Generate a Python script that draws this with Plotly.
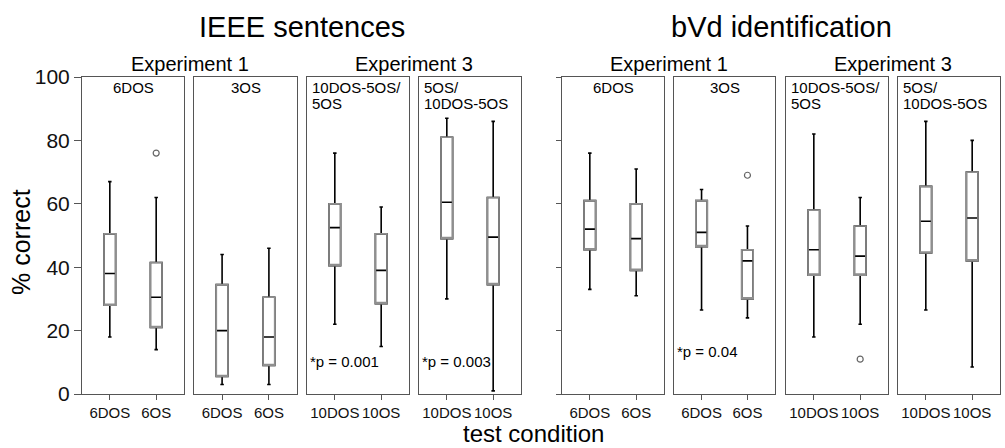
import plotly.graph_objects as go

# ---------------- data ----------------
panel_labels = ["6DOS", "3OS", "10DOS-5OS/|5OS", "5OS/|10DOS-5OS",
                "6DOS", "3OS", "10DOS-5OS/|5OS", "5OS/|10DOS-5OS"]
conditions = [["6DOS", "6OS"], ["6DOS", "6OS"], ["10DOS", "10OS"], ["10DOS", "10OS"],
              ["6DOS", "6OS"], ["6DOS", "6OS"], ["10DOS", "10OS"], ["10DOS", "10OS"]]
lower  = [[18, 14], [3, 3],    [22, 15],   [30, 1],    [33, 31],   [26.5, 24], [18, 22],   [26.5, 8.5]]
q1     = [[28, 21], [5.5, 9],  [40.5, 28.5], [49, 34.5], [45.5, 39], [46.5, 30], [37.5, 37.5], [44.5, 42]]
median = [[38, 30.5], [20, 18], [52.5, 39], [60.5, 49.5], [52, 49], [51, 42],   [45.5, 43.5], [54.5, 55.5]]
q3     = [[50.5, 41.5], [34.5, 30.5], [60, 50.5], [81, 62], [61, 60], [61, 45.5], [58, 53], [65.5, 70]]
upper  = [[67, 62], [44, 46],  [76, 59],   [87, 86],   [76, 71],   [64.5, 53], [82, 62],   [86, 80]]
outliers = [(0, 1, 76), (5, 1, 69), (6, 1, 11)]   # (panel, group, value)
p_texts = [(2, "*p = 0.001"), (3, "*p = 0.003"), (5, "*p = 0.04")]
y_ticks = [0, 20, 40, 60, 80, 100]

# ---------------- layout helpers ----------------
W, H = 1005, 448
def px(x): return x / W
def py(y): return 1 - y / H

panel_px = [(82, 184), (194, 297), (307, 409), (419, 521),
            (562, 664), (674, 775), (786, 888), (898, 1000)]
y_dom = [py(394), py(77)]
FONT = "Liberation Sans, Arial, sans-serif"
BORDER = "#555555"

fig = go.Figure()
layout = dict(width=W, height=H, margin=dict(l=0, r=0, t=0, b=0, autoexpand=False),
              plot_bgcolor="white", paper_bgcolor="white", showlegend=False,
              boxmode="overlay", font=dict(family=FONT, color="black"))
annotations = []

for i in range(8):
    sfx = "" if i == 0 else str(i + 1)
    xa, ya = "x" + sfx, "y" + sfx
    for g in range(2):
        # black box: whiskers, caps, median
        fig.add_trace(go.Box(x=[g], q1=[q1[i][g]], median=[median[i][g]], q3=[q3[i][g]],
                             lowerfence=[lower[i][g]], upperfence=[upper[i][g]],
                             width=0.25, whiskerwidth=0.3, fillcolor="white",
                             line=dict(color="black", width=1.6), boxpoints=False,
                             xaxis=xa, yaxis=ya, hoverinfo="skip"))
        # grey outline of the box
        fig.add_trace(go.Box(x=[g], q1=[q1[i][g]], median=[q1[i][g]], q3=[q3[i][g]],
                             lowerfence=[q1[i][g]], upperfence=[q3[i][g]],
                             width=0.25, whiskerwidth=0, fillcolor="rgba(0,0,0,0)",
                             line=dict(color="#8f8f8f", width=1.6), boxpoints=False,
                             xaxis=xa, yaxis=ya, hoverinfo="skip"))
    for (p, g, v) in outliers:
        if p == i:
            fig.add_trace(go.Scatter(x=[g], y=[v], mode="markers",
                                     marker=dict(symbol="circle-open", size=6,
                                                 color="#666666", line=dict(width=1.2)),
                                     xaxis=xa, yaxis=ya, hoverinfo="skip"))
    x0, x1 = panel_px[i]
    layout["xaxis" + sfx] = dict(domain=[px(x0), px(x1)], range=[-0.6, 1.6],
                                 tickvals=[0, 1], ticktext=conditions[i], tickangle=0,
                                 ticks="outside", ticklen=5, tickcolor=BORDER,
                                 tickfont=dict(size=15, color="#111111"),
                                 showline=True, mirror=True, linecolor=BORDER, linewidth=1,
                                 showgrid=False, zeroline=False, anchor=ya, fixedrange=True)
    yd = dict(domain=y_dom, range=[0, 100], tickvals=y_ticks,
              showline=True, mirror=True, linecolor=BORDER, linewidth=1,
              showgrid=False, zeroline=False, anchor=xa, fixedrange=True)
    if i == 0:
        yd.update(ticks="outside", ticklen=7, tickcolor=BORDER,
                  tickfont=dict(size=21, color="#111111"), showticklabels=True)
    elif i == 4:
        yd.update(ticks="outside", ticklen=5, tickcolor=BORDER, showticklabels=False)
    else:
        yd.update(ticks="", showticklabels=False)
    layout["yaxis" + sfx] = yd

    # panel label(s)
    lines = panel_labels[i].split("|")
    if len(lines) == 1:
        annotations.append(dict(x=px((x0 + x1) / 2), y=py(87), xref="paper", yref="paper",
                                text=lines[0], showarrow=False, xanchor="center",
                                yanchor="middle", font=dict(size=15)))
    else:
        for k, ln in enumerate(lines):
            annotations.append(dict(x=px(x0 + 3), y=py(87 + 16 * k), xref="paper", yref="paper",
                                    text=ln, showarrow=False, xanchor="left",
                                    yanchor="middle", font=dict(size=15)))

for (p, t) in p_texts:
    yy = 361 if p < 4 else 351
    annotations.append(dict(x=px(panel_px[p][0] + 1), y=py(yy), xref="paper", yref="paper",
                            text=t, showarrow=False, xanchor="left", yanchor="middle",
                            font=dict(size=15)))

# titles
for (txt, xc) in [("IEEE sentences", (82 + 521) / 2), ("bVd identification", (562 + 1000) / 2)]:
    annotations.append(dict(x=px(xc), y=py(27), xref="paper", yref="paper", text=txt,
                            showarrow=False, xanchor="center", yanchor="middle",
                            font=dict(size=29)))
for (txt, a, b) in [("Experiment 1", 0, 1), ("Experiment 3", 2, 3),
                    ("Experiment 1", 4, 5), ("Experiment 3", 6, 7)]:
    xc = (panel_px[a][0] + panel_px[b][1]) / 2
    annotations.append(dict(x=px(xc), y=py(64), xref="paper", yref="paper", text=txt,
                            showarrow=False, xanchor="center", yanchor="middle",
                            font=dict(size=20)))

annotations.append(dict(x=px(21), y=py(242), xref="paper", yref="paper", text="% correct",
                        showarrow=False, textangle=-90, xanchor="center", yanchor="middle",
                        font=dict(size=25)))
annotations.append(dict(x=px(533), y=py(433), xref="paper", yref="paper", text="test condition",
                        showarrow=False, xanchor="center", yanchor="middle",
                        font=dict(size=24)))

layout["annotations"] = annotations
fig.update_layout(**layout)
fig.write_html("out.html", config={"displayModeBar": False},
               post_script="document.body.style.margin='0';document.body.style.overflow='hidden';")
